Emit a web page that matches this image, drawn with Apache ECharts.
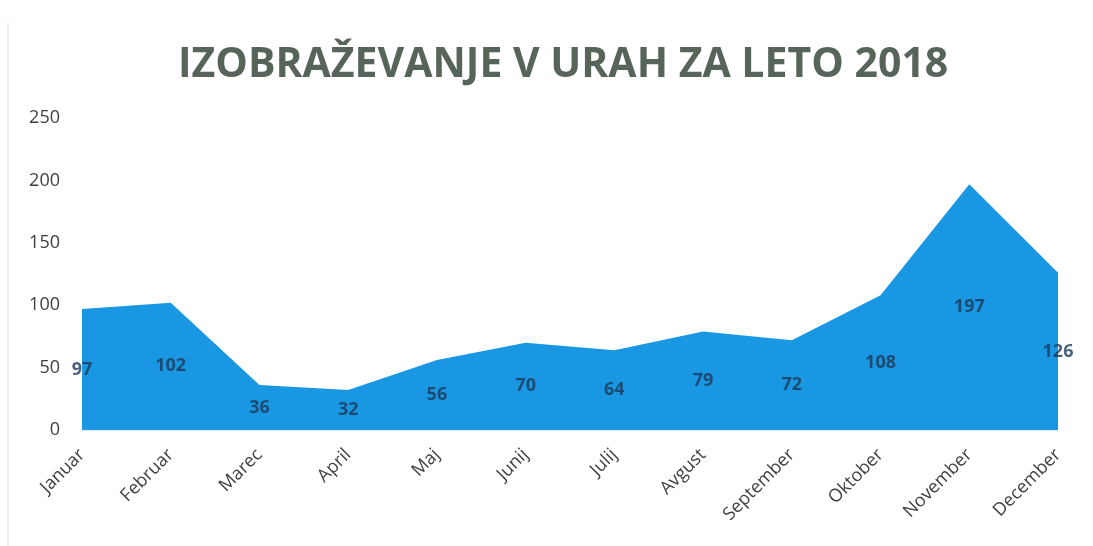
<!DOCTYPE html>
<html>
<head>
<meta charset="utf-8">
<script src="https://cdn.jsdelivr.net/npm/echarts@6/dist/echarts.min.js"></script>
<style>html,body{margin:0;padding:0;background:#fff}#c{width:1093px;height:546px}</style>
</head>
<body>
<div id="c"></div>
<script>
const titleText = 'IZOBRAŽEVANJE V URAH ZA LETO 2018';
const months = ['Januar','Februar','Marec','April','Maj','Junij','Julij','Avgust','September','Oktober','November','December'];
const hours = [97, 102, 36, 32, 56, 70, 64, 79, 72, 108, 197, 126];
const yTicks = [0, 50, 100, 150, 200, 250];

const chart = echarts.init(document.getElementById('c'));
const labelPoints = hours.map((v, i) => ({ value: [i, v / 2], raw: v }));
chart.setOption({
  animation: false,
  title: {
    text: titleText, left: 173, top: 40,
    textStyle: { fontFamily: 'Open Sans', fontWeight: 'bold', fontSize: 41, color: '#56645a' }
  },
  graphic: [{ type: 'line', shape: { x1: 8, y1: 22, x2: 8, y2: 546 }, style: { stroke: '#eeeeee', lineWidth: 2 } }],
  grid: { left: 82, right: 35, top: 118, bottom: 116 },
  xAxis: {
    type: 'category', data: months, boundaryGap: false,
    axisLine: { show: true, lineStyle: { color: '#eaeaea' } },
    axisTick: { show: false },
    axisLabel: { rotate: 45, color: '#404040', fontFamily: 'Open Sans', fontSize: 18, margin: 22, interval: 0 }
  },
  yAxis: {
    type: 'value', min: yTicks[0], max: yTicks[yTicks.length - 1], interval: 50,
    splitLine: { show: false }, axisLine: { show: false }, axisTick: { show: false },
    axisLabel: { color: '#404040', fontFamily: 'Open Sans', fontSize: 18, margin: 22 }
  },
  series: [
    {
      type: 'line', data: hours, symbol: 'none', z: 1,
      lineStyle: { width: 0, color: '#1a97e2' },
      areaStyle: { color: '#1a97e2', opacity: 1 }
    },
    {
      type: 'scatter', data: labelPoints, symbolSize: 0, silent: true, z: 5,
      label: {
        show: true, position: 'inside',
        formatter: p => String(p.data.raw),
        color: '#1c3858', fontFamily: 'Open Sans', fontWeight: 'bold', fontSize: 18
      }
    }
  ]
});
</script>
</body>
</html>
